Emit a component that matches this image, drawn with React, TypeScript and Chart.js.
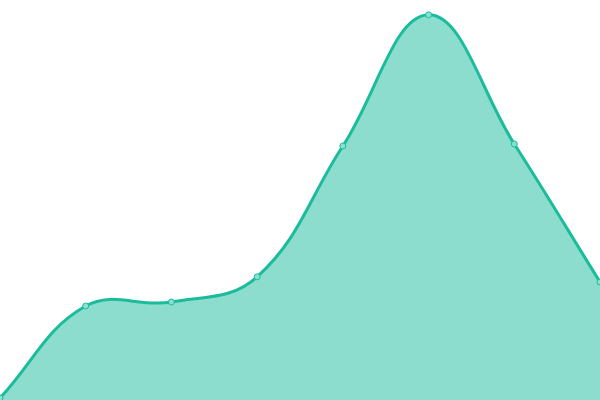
import { Chart, registerables } from "chart.js";
import { useEffect, useRef } from "react";

Chart.register(...registerables);

const labels = ["1", "2", "3", "4", "5", "6", "7", "8"];
const values = [0.5, 23.5, 24.5, 30.8, 63.5, 96.3, 64, 29.5];
const yMin = 0;
const yMax = 100;

export default function App() {
  const canvasRef = useRef<HTMLCanvasElement | null>(null);

  useEffect(() => {
    document.body.style.margin = "0";
    if (!canvasRef.current) return;
    const chart = new Chart(canvasRef.current, {
      type: "line",
      data: {
        labels,
        datasets: [
          {
            data: values,
            fill: true,
            tension: 0.4,
            borderColor: "#1abc9c",
            borderWidth: 3,
            backgroundColor: "rgba(26, 188, 156, 0.5)",
            pointRadius: 3,
            pointBorderWidth: 1,
            pointBorderColor: "#1abc9c",
            pointBackgroundColor: "#8ae0d0",
          },
        ],
      },
      options: {
        animation: false,
        responsive: true,
        maintainAspectRatio: false,
        layout: { padding: 0, autoPadding: false },
        plugins: {
          legend: { display: false },
          tooltip: { enabled: false },
        },
        scales: {
          x: { display: false },
          y: { display: false, min: yMin, max: yMax },
        },
      },
    });
    return () => chart.destroy();
  }, []);

  return (
    <div style={{ position: "fixed", left: 0, top: 0, width: 600, height: 400 }}>
      <canvas ref={canvasRef} />
    </div>
  );
}
